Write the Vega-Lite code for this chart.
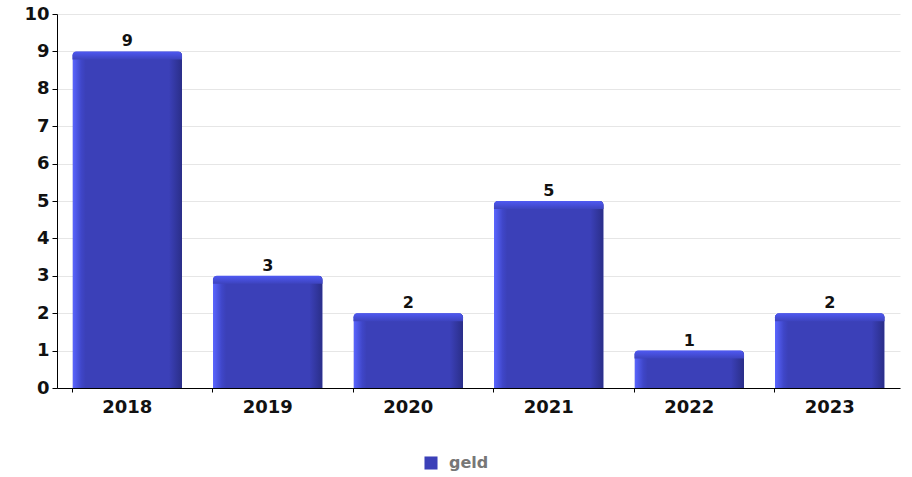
{
  "$schema": "https://vega.github.io/schema/vega-lite/v6.json",
  "width": 843,
  "height": 374,
  "autosize": {"type": "none"},
  "padding": {"left": 57, "top": 14, "right": 12, "bottom": 89},
  "background": "white",
  "config": {
    "font": "DejaVu Sans",
    "view": {"stroke": null}
  },
  "data": {
    "values": [
      {"jaar": "2018", "aantal": 9, "reeks": "geld"},
      {"jaar": "2019", "aantal": 3, "reeks": "geld"},
      {"jaar": "2020", "aantal": 2, "reeks": "geld"},
      {"jaar": "2021", "aantal": 5, "reeks": "geld"},
      {"jaar": "2022", "aantal": 1, "reeks": "geld"},
      {"jaar": "2023", "aantal": 2, "reeks": "geld"}
    ]
  },
  "encoding": {
    "x": {
      "field": "jaar", "type": "nominal", "title": null,
      "scale": {"paddingInner": 0.22, "paddingOuter": 0.11},
      "axis": {
        "labelAngle": 0, "labelFont": "DejaVu Sans", "labelFontWeight": "bold",
        "labelFontSize": 18, "labelColor": "#111", "labelPadding": 6,
        "domainColor": "#000", "tickColor": "#000", "tickSize": 4,
        "bandPosition": 0, "grid": false
      }
    },
    "y": {
      "field": "aantal", "type": "quantitative", "title": null,
      "scale": {"domain": [0, 10], "nice": false},
      "axis": {
        "values": [0,1,2,3,4,5,6,7,8,9,10],
        "labelFont": "DejaVu Sans", "labelFontWeight": "bold",
        "labelFontSize": 18, "labelColor": "#111", "labelPadding": 3,
        "domainColor": "#000", "tickColor": "#000", "tickSize": 5,
        "gridColor": "#e6e6e6", "gridWidth": 1
      }
    }
  },
  "layer": [
    {
      "mark": {"type": "bar", "cornerRadiusTopLeft": 4, "cornerRadiusTopRight": 4},
      "encoding": {
        "color": {
          "field": "reeks", "type": "nominal",
          "scale": {"range": ["#3b40b8"]},
          "legend": {
            "title": null, "orient": "none", "legendX": 366, "legendY": 441,
            "symbolType": "square", "symbolSize": 170, "symbolStrokeWidth": 0,
            "labelFont": "DejaVu Sans", "labelFontWeight": "bold",
            "labelFontSize": 16, "labelColor": "#777", "labelOffset": 10
          }
        }
      }
    },
    {
      "mark": {
        "type": "bar", "cornerRadiusTopLeft": 4, "cornerRadiusTopRight": 4,
        "fill": {
          "gradient": "linear", "x1": 0, "x2": 1, "y1": 0, "y2": 0,
          "stops": [
            {"offset": 0, "color": "#5a66ff"},
            {"offset": 0.08, "color": "#3f46c8"},
            {"offset": 0.12, "color": "#3b40b8"},
            {"offset": 0.88, "color": "#3b40b8"},
            {"offset": 1, "color": "#2a2e88"}
          ]
        }
      }
    },
    {
      "mark": {
        "type": "bar", "cornerRadiusTopLeft": 4, "cornerRadiusTopRight": 4,
        "y2Offset": 8,
        "fill": {
          "gradient": "linear", "x1": 0, "x2": 0, "y1": 0, "y2": 1,
          "stops": [
            {"offset": 0, "color": "#4f59f2"},
            {"offset": 1, "color": "#3d43be"}
          ]
        }
      },
      "encoding": {"y2": {"field": "aantal"}}
    },
    {
      "mark": {"type": "text", "dy": -10, "fontSize": 16, "fontWeight": "bold", "color": "#111", "font": "DejaVu Sans"},
      "encoding": {"text": {"field": "aantal", "type": "quantitative"}}
    }
  ]
}
